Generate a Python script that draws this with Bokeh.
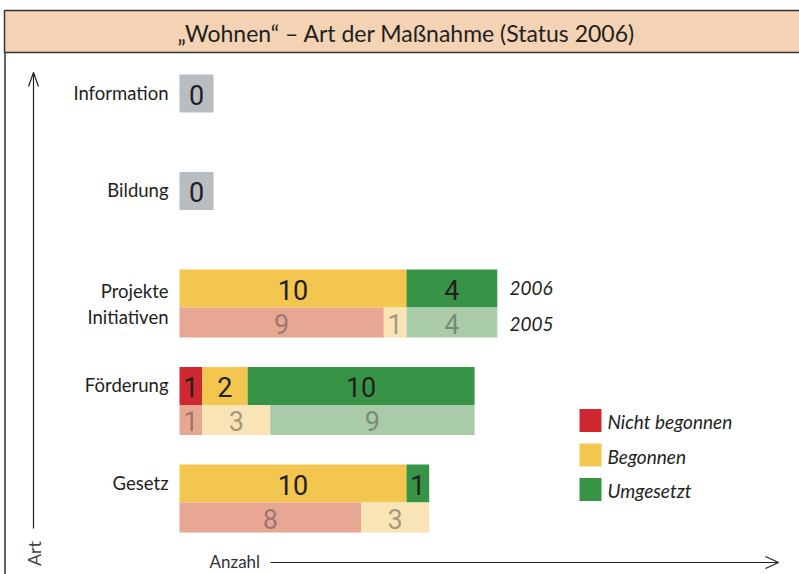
from math import pi
from bokeh.plotting import figure
from bokeh.models import Range1d, ColumnDataSource
from bokeh.core.properties import value
from bokeh.embed import file_html
from bokeh.resources import INLINE

# ---------------- data ----------------
title_text = "„Wohnen“ – Art der Maßnahme (Status 2006)"
categories = ["Information", "Bildung", "Projekte\nInitiativen", "Förderung", "Gesetz"]
statuses = ["Nicht begonnen", "Begonnen", "Umgesetzt"]
years = ["2006", "2005"]

nicht_begonnen_2006 = [0, 0, 0, 1, 0]
begonnen_2006 = [0, 0, 10, 2, 10]
umgesetzt_2006 = [0, 0, 4, 10, 1]

nicht_begonnen_2005 = [0, 0, 9, 1, 8]
begonnen_2005 = [0, 0, 1, 3, 3]
umgesetzt_2005 = [0, 0, 4, 9, 0]

# ---------------- styles ----------------
W, H = 799, 574
PPU = 22.7          # pixels per count
X0 = 179            # pixel position of count 0
colors_2006 = ["#CF2730", "#F2C64F", "#379446"]
colors_2005 = ["#E7A792", "#F8E4B5", "#A9CBA7"]
zero_color = "#B7BDC0"
num_font = value("Roboto")
txt_font = value("Lato")
dark = "#231F20"

p = figure(width=W, height=H, output_backend="svg", toolbar_location=None,
           x_range=Range1d(-X0 / PPU, (W - X0) / PPU), y_range=Range1d(H, 0),
           x_axis_type=None, y_axis_type=None, min_border=0,
           outline_line_color=None)
p.extra_x_ranges = {"px": Range1d(0, W)}

# frame + title bar
p.quad(left=[4], right=[810], top=[10], bottom=[52], fill_color="#F3D3B4",
       line_color="#333333", line_width=1.5, x_range_name="px")
p.segment(x0=[4.5], y0=[52], x1=[4.5], y1=[580], line_color="#333333",
          line_width=1.5, x_range_name="px")
p.text(x=[406], y=[32], text=[title_text], text_font=txt_font, text_font_size="23px",
       text_color=dark, text_align="center", text_baseline="middle", x_range_name="px")

# ---------------- bars ----------------
series = {
    "2006": [nicht_begonnen_2006, begonnen_2006, umgesetzt_2006],
    "2005": [nicht_begonnen_2005, begonnen_2005, umgesetzt_2005],
}
bar = dict(left=[], right=[], y=[], h=[], color=[])
lab = dict(x=[], y=[], text=[], color=[], alpha=[])
zero = dict(left=[], right=[], y=[], h=[])
zlab = dict(x=[], y=[], text=[])

for i, cat in enumerate(categories):
    top = 74 + i * 97.5
    total = sum(series["2006"][k][i] for k in range(3)) + sum(series["2005"][k][i] for k in range(3))
    if total == 0:
        zero["left"].append(0); zero["right"].append(34 / PPU)
        zero["y"].append(top + 19); zero["h"].append(38)
        zlab["x"].append(17 / PPU); zlab["y"].append(top + 20); zlab["text"].append("0")
        continue
    for yr in years:
        yc, hh = (top + 19, 38) if yr == "2006" else (top + 38 + 15, 30)
        cols = colors_2006 if yr == "2006" else colors_2005
        left = 0
        for k in range(3):
            v = series[yr][k][i]
            if v == 0:
                continue
            bar["left"].append(left); bar["right"].append(left + v)
            bar["y"].append(yc); bar["h"].append(hh); bar["color"].append(cols[k])
            lab["x"].append(left + v / 2); lab["y"].append(yc + 1); lab["text"].append(str(v))
            lab["color"].append(dark if yr == "2006" else "#3A3A3A")
            lab["alpha"].append(1.0 if yr == "2006" else 0.45)
            left += v

p.hbar(y="y", left="left", right="right", height="h", fill_color="color",
       line_color=None, source=ColumnDataSource(bar))
p.text(x="x", y="y", text="text", text_color="color", text_alpha="alpha",
       text_font=num_font, text_font_size="27px", text_align="center",
       text_baseline="middle", source=ColumnDataSource(lab))
p.hbar(y="y", left="left", right="right", height="h", fill_color=zero_color,
       line_color=None, source=ColumnDataSource(zero))
p.text(x="x", y="y", text="text", text_color=dark, text_font=num_font,
       text_font_size="27px", text_align="center", text_baseline="middle",
       source=ColumnDataSource(zlab))

# category labels
cl = dict(x=[], y=[], text=[])
for i, cat in enumerate(categories):
    top = 74 + i * 97.5
    lines = cat.split("\n")
    if len(lines) == 1:
        cl["x"].append(168); cl["y"].append(top + 18); cl["text"].append(lines[0])
    else:
        for j, ln in enumerate(lines):
            cl["x"].append(168); cl["y"].append(top + 21 + j * 26); cl["text"].append(ln)
p.text(x="x", y="y", text="text", text_font=txt_font, text_font_size="18.5px",
       text_color=dark, text_align="right", text_baseline="middle",
       source=ColumnDataSource(cl), x_range_name="px")

# year labels (next to Projekte / Initiativen)
p.text(x=[509, 509], y=[74 + 2 * 97.5 + 18, 74 + 2 * 97.5 + 54], text=years,
       text_font=txt_font, text_font_style="italic", text_font_size="19px",
       text_color=dark, text_align="left", text_baseline="middle", x_range_name="px")

# legend
ly = [420, 454.5, 489]
p.quad(left=[579] * 3, right=[601] * 3, top=[y - 11.5 for y in ly],
       bottom=[y + 11.5 for y in ly], fill_color=colors_2006, line_color=None,
       x_range_name="px")
p.text(x=[607] * 3, y=[y + 1 for y in ly], text=statuses, text_font=txt_font,
       text_font_style="italic", text_font_size="19px", text_color=dark,
       text_align="left", text_baseline="middle", x_range_name="px")

# axes arrows
p.multi_line(xs=[[33, 33], [28, 33, 38], [270, 778], [765, 778, 765]],
             ys=[[72, 528], [86, 72, 86], [562, 562], [556, 562, 568]],
             line_color="#222222", line_width=1.2, x_range_name="px")
p.text(x=[33], y=[553], text=["Art"], angle=pi / 2, text_font=txt_font,
       text_font_size="18px", text_color="#444444", text_align="center",
       text_baseline="middle", x_range_name="px")
p.text(x=[209], y=[561], text=["Anzahl"], text_font=txt_font, text_font_size="17px",
       text_color="#333333", text_align="left", text_baseline="middle",
       x_range_name="px")

open("out.html", "w").write(file_html(p, INLINE))
